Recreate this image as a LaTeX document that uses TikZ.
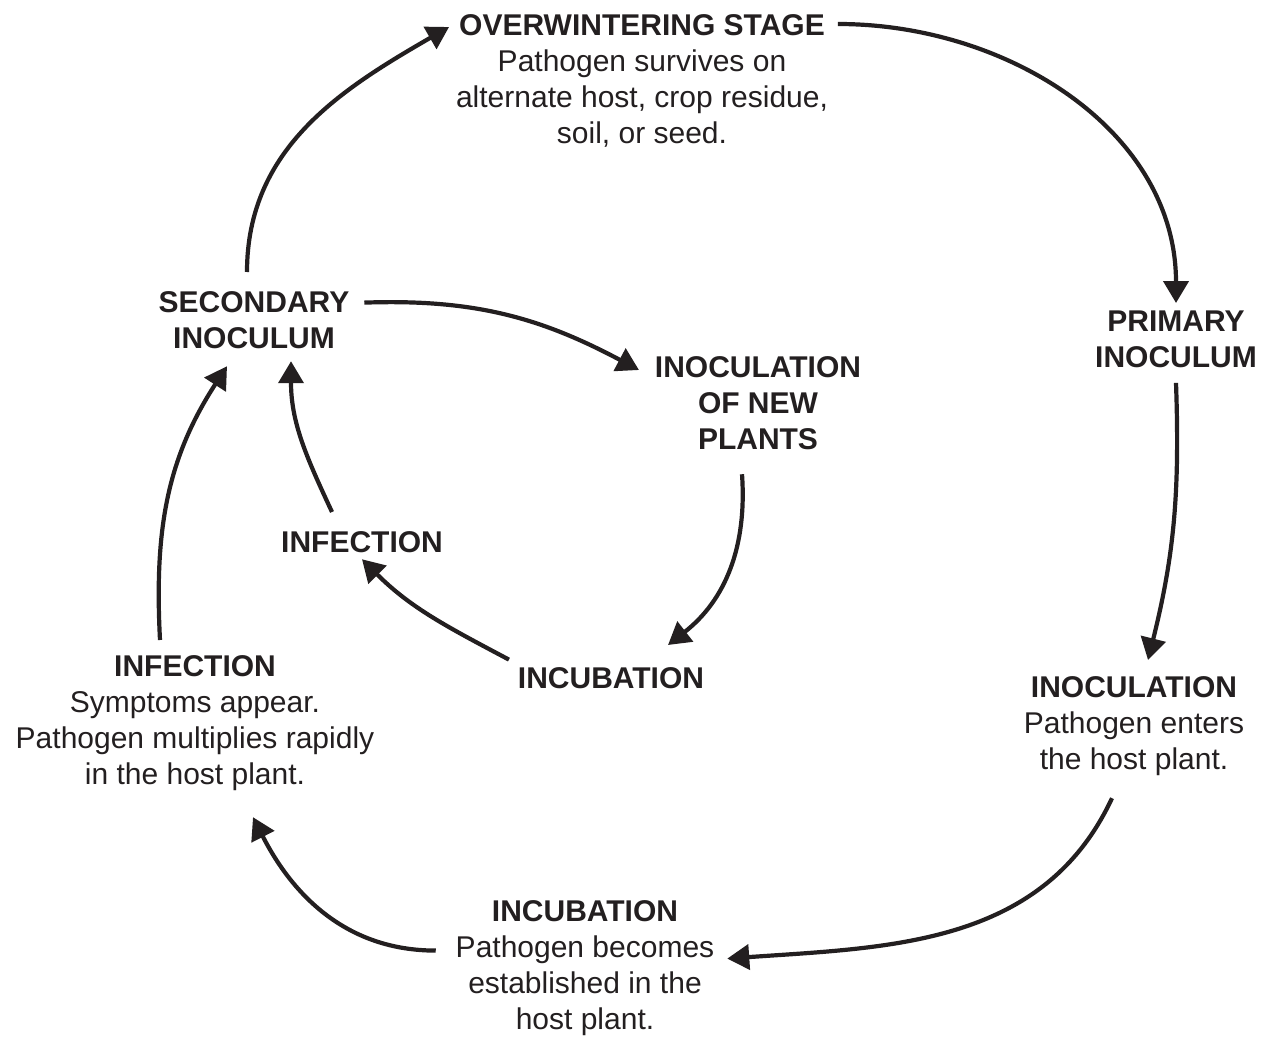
\documentclass[tikz,border=0pt]{standalone}
\usepackage{fontspec}
\setmainfont{Liberation Sans}
\usepackage{tikz}
\usetikzlibrary{arrows.meta,positioning}
\definecolor{ink}{RGB}{35,31,32}

\begin{document}
\begin{tikzpicture}[x=0.5pt, y=0.5pt, >={Triangle[length=11pt,width=12.5pt]},
    link/.style={->, line width=2.1pt, draw=ink},
    stage/.style={align=center, anchor=north, inner sep=0pt, outer sep=0pt, text=ink,
        font=\fontsize{15pt}{18pt}\selectfont}]
    \useasboundingbox (0,0) rectangle (1269,-1038);

    % Outer cycle
    \node[stage] (over) at (642,-15) {\textbf{OVERWINTERING STAGE}\\ Pathogen survives on\\ alternate host, crop residue,\\ soil, or seed.};
    \node[stage] (prim) at (1176,-311) {\textbf{PRIMARY}\\ \textbf{INOCULUM}};
    \node[stage] (inoc) at (1134,-677) {\textbf{INOCULATION}\\ Pathogen enters\\ the host plant.};
    \node[stage] (incx) at (585,-901) {\textbf{INCUBATION}\\ Pathogen becomes\\ established in the\\ host plant.};
    \node[stage] (infx) at (195,-656) {\textbf{INFECTION}\\ Symptoms appear.\\ Pathogen multiplies rapidly\\ in the host plant.};
    \node[stage] (sec) at (254,-292) {\textbf{SECONDARY}\\ \textbf{INOCULUM}};

    % Inner cycle
    \node[stage] (newp) at (758,-357) {\textbf{INOCULATION}\\ \textbf{OF NEW}\\ \textbf{PLANTS}};
    \node[stage] (inc) at (611,-668) {\textbf{INCUBATION}};
    \node[stage] (inf) at (362,-532) {\textbf{INFECTION}};

    % Outer arrows
    \draw[link] ([xshift=-3.5pt,yshift=10pt]sec.north) to[out=90, in=210] ([xshift=-3.5pt,yshift=-6pt]over.north west);
    \draw[link] ([xshift=5pt,yshift=-4.5pt]over.north east) to[out=0, in=90] ([yshift=4pt]prim.north);
    \draw[link] ([yshift=-7.5pt]prim.south) to[out=-88, in=76] ([xshift=7pt,yshift=8.5pt]inoc.north);
    \draw[link] ([xshift=-11pt,yshift=-11pt]inoc.south) to[out=-115, in=4] ([xshift=6.5pt,yshift=5pt]incx.east);
    \draw[link] ([xshift=-10pt,yshift=9pt]incx.west) to[out=180, in=-63] ([xshift=29pt,yshift=-13pt]infx.south);
    \draw[link] ([xshift=-17.5pt,yshift=8pt]infx.north) to[out=93, in=-123] ([xshift=-13.5pt,yshift=-8.5pt]sec.south);

    % Inner arrows
    \draw[link] ([xshift=7.5pt,yshift=9pt]sec.east) to[out=2, in=152] ([xshift=-8pt,yshift=-6.5pt]newp.north west);
    \draw[link] ([xshift=-8pt,yshift=-12pt]newp.south) to[out=-86, in=38] ([xshift=28.5pt,yshift=11.5pt]inc.north);
    \draw[link] ([xshift=-4.5pt,yshift=9.5pt]inc.west) to[out=152, in=-45] ([yshift=-3pt]inf.south);
    \draw[link] ([xshift=-15pt,yshift=10pt]inf.north) to[out=115, in=-90] ([xshift=18.5pt,yshift=-6pt]sec.south);
\end{tikzpicture}
\end{document}
